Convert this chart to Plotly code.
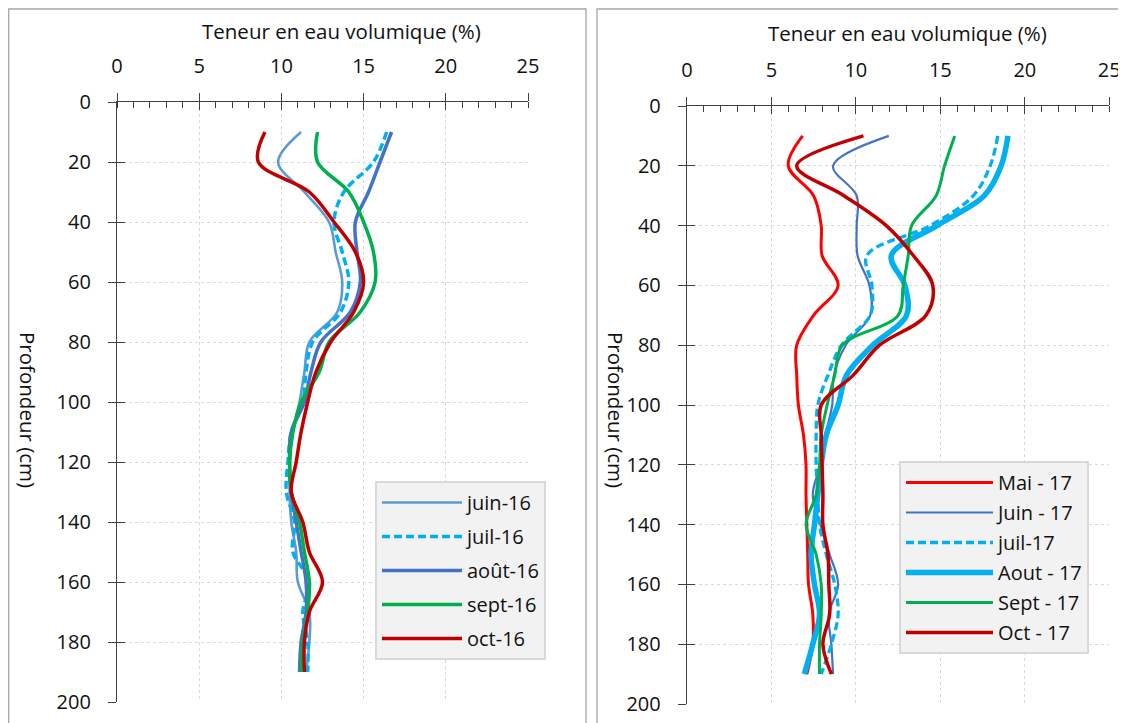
import plotly.graph_objects as go

# page is rendered with an 8px body margin; figure sized so it ends at the window edge
OFF = 8
W, H = 1126 - OFF, 723 - OFF

def px(x):
    return (x - OFF) / W

def py(y):
    return 1 - (y - OFF) / H

depth = [10, 20, 30, 40, 50, 60, 70, 80, 90, 100, 110, 120, 130, 140, 150, 160, 170, 180, 190]

# 2016 (left panel)
juin16 = [11.2, 9.8, 11.4, 12.9, 13.3, 13.7, 13.4, 11.7, 11.4, 11.1, 10.7, 10.5, 10.5, 10.6, 10.9, 11.0, 11.7, 11.7, 11.5]
juil16 = [16.4, 15.6, 13.8, 13.2, 13.7, 14.1, 13.6, 11.9, 11.5, 11.3, 10.6, 10.4, 10.3, 10.8, 10.7, 11.7, 11.3, 11.6, 11.6]
aout16 = [16.7, 16.0, 15.3, 14.5, 14.6, 14.8, 14.2, 12.4, 11.8, 11.4, 10.6, 10.5, 10.6, 10.9, 11.2, 11.5, 11.5, 11.2, 11.1]
sept16 = [12.2, 12.2, 14.1, 15.0, 15.6, 15.7, 14.8, 12.9, 12.3, 11.2, 10.7, 10.5, 10.6, 11.1, 11.4, 11.7, 11.6, 11.3, 11.2]
oct16 = [9.0, 8.6, 11.7, 13.2, 14.5, 15.0, 14.4, 13.0, 12.1, 11.6, 11.2, 10.9, 10.6, 11.3, 11.7, 12.5, 11.7, 11.4, 11.4]

# 2017 (right panel)
mai17 = [6.85, 6.0, 7.5, 7.95, 8.0, 8.95, 7.5, 6.5, 6.5, 6.6, 6.9, 7.05, 7.05, 7.1, 7.15, 7.2, 7.45, 7.45, 7.1]
juin17 = [11.95, 8.65, 10.05, 10.05, 10.1, 10.8, 10.85, 9.4, 8.7, 8.6, 8.2, 7.9, 7.45, 7.9, 8.45, 8.95, 8.4, 8.55, 8.65]
juil17 = [18.4, 17.95, 16.95, 14.4, 10.65, 10.95, 10.85, 9.15, 8.35, 7.75, 7.65, 7.65, 7.75, 7.85, 8.25, 8.75, 8.95, 8.55, 7.95]
aout17 = [19.0, 18.6, 17.6, 14.8, 12.1, 12.9, 13.0, 11.0, 9.45, 8.95, 8.25, 7.95, 7.75, 7.55, 7.35, 7.55, 7.85, 7.45, 6.95]
sept17 = [15.85, 15.25, 14.75, 13.3, 13.1, 12.8, 12.5, 9.2, 8.75, 8.3, 7.95, 7.85, 7.65, 7.05, 7.65, 7.95, 7.95, 7.85, 7.85]
oct17 = [10.45, 6.5, 9.3, 11.8, 13.4, 14.55, 14.15, 11.4, 9.85, 7.95, 7.95, 8.0, 8.05, 8.05, 8.35, 8.4, 8.45, 8.05, 8.55]

x_title = "Teneur en eau volumique (%)"
y_title = "Profondeur (cm)"
x_ticks = [0, 5, 10, 15, 20, 25]
y_ticks = [0, 20, 40, 60, 80, 100, 120, 140, 160, 180, 200]

FONT = "Open Sans"
TXT = "#111111"

left_series = [
    ("juin-16", juin16, "#5B9BD5", 2.6, "solid"),
    ("juil-16", juil16, "#00B0F0", 3.5, "8px,4px"),
    ("août-16", aout16, "#4472C4", 3.5, "solid"),
    ("sept-16", sept16, "#00B050", 3.5, "solid"),
    ("oct-16", oct16, "#C00000", 3.5, "solid"),
]
right_series = [
    ("Mai - 17", mai17, "#FF0000", 3.0, "solid"),
    ("Juin - 17", juin17, "#4472C4", 2.2, "solid"),
    ("juil-17", juil17, "#00B0F0", 3.3, "8px,4px"),
    ("Aout - 17", aout17, "#00B0F0", 5.5, "solid"),
    ("Sept - 17", sept17, "#00B050", 3.0, "solid"),
    ("Oct - 17", oct17, "#C00000", 3.5, "solid"),
]

fig = go.Figure()
for i, (name, vals, col, w, dash) in enumerate(left_series):
    fig.add_trace(go.Scatter(x=vals, y=depth, name=name, mode="lines",
                             line=dict(color=col, width=w, dash=dash, shape="spline", smoothing=1),
                             xaxis="x", yaxis="y", legend="legend", legendgroup="L%d" % i))
for i, (name, vals, col, w, dash) in enumerate(right_series):
    fig.add_trace(go.Scatter(x=vals, y=depth, name=name, mode="lines",
                             line=dict(color=col, width=w, dash=dash, shape="spline", smoothing=1),
                             xaxis="x2", yaxis="y2", legend="legend2", legendgroup="R%d" % i))
# carriers for the overlay axes (inner half of crossing ticks)
fig.add_trace(go.Scatter(x=[None], y=[None], xaxis="x3", yaxis="y3", showlegend=False, hoverinfo="skip"))
fig.add_trace(go.Scatter(x=[None], y=[None], xaxis="x4", yaxis="y4", showlegend=False, hoverinfo="skip"))

def xax(domain, anchor):
    return dict(domain=domain, anchor=anchor, side="top", range=[0, 25], tickvals=x_ticks,
                automargin=False,
                showline=True, linecolor="#404040", linewidth=1.3, ticks="outside", ticklen=8,
                tickwidth=1.3, tickcolor="#404040", ticklabelstandoff=12,
                minor=dict(dtick=1, ticks="inside", ticklen=6, tickwidth=1, tickcolor="#404040", showgrid=False),
                showgrid=True, gridcolor="#D9D9D9", griddash="3px,3px", gridwidth=1,
                zeroline=False, tickfont=dict(family=FONT, size=20, color=TXT))

def yax(domain, anchor):
    return dict(domain=domain, anchor=anchor, range=[200, 0], tickvals=y_ticks,
                automargin=False,
                showline=True, linecolor="#404040", linewidth=1.3, ticks="outside", ticklen=8,
                tickwidth=1.3, tickcolor="#404040", ticklabelstandoff=13,
                showgrid=True, gridcolor="#D9D9D9", griddash="3px,3px", gridwidth=1,
                zeroline=False, tickfont=dict(family=FONT, size=20, color=TXT))

def xov(over, anchor):
    return dict(overlaying=over, anchor=anchor, side="top", range=[0, 25], tickvals=x_ticks,
                automargin=False,
                showticklabels=False, ticks="inside", ticklen=8, tickwidth=1.3, tickcolor="#404040",
                showline=False, showgrid=False, zeroline=False)

def yov(over, anchor):
    return dict(overlaying=over, anchor=anchor, side="left", range=[200, 0], tickvals=y_ticks,
                automargin=False,
                showticklabels=False, ticks="inside", ticklen=8, tickwidth=1.3, tickcolor="#404040",
                showline=False, showgrid=False, zeroline=False)

xL = [px(117), px(528)]
yL = [py(702), py(102)]
xR = [px(686.9), px(1109.3)]
yR = [py(704), py(106)]

legend_common = dict(bgcolor="#F2F2F2", bordercolor="#D9D9D9", borderwidth=2,
                     font=dict(family=FONT, size=20, color=TXT), xanchor="left", yanchor="top",
                     traceorder="grouped", entrywidthmode="pixels")

fig.update_layout(
    width=W, height=H, margin=dict(l=0, r=0, t=0, b=0, autoexpand=False),
    paper_bgcolor="white", plot_bgcolor="white",
    xaxis=xax(xL, "y"), yaxis=yax(yL, "x"),
    xaxis2=xax(xR, "y2"), yaxis2=yax(yR, "x2"),
    xaxis3=xov("x", "y3"), yaxis3=yov("y", "x3"),
    xaxis4=xov("x2", "y4"), yaxis4=yov("y2", "x4"),
    legend=dict(x=px(375), y=py(481), tracegroupgap=5, itemwidth=80, entrywidth=170, **legend_common),
    legend2=dict(x=px(899), y=py(461), tracegroupgap=1, itemwidth=87, entrywidth=197, **legend_common),
    showlegend=True,
    shapes=[
        dict(type="rect", xref="paper", yref="paper", x0=px(8.7), x1=px(586), y0=-0.05, y1=py(9),
             line=dict(color="#A6A6A6", width=1.3), layer="below"),
        dict(type="rect", xref="paper", yref="paper", x0=px(597), x1=1.05, y0=-0.05, y1=py(9),
             line=dict(color="#A6A6A6", width=1.3), layer="below"),
    ],
    annotations=[
        dict(text=x_title, xref="paper", yref="paper", x=px(341), y=py(31), showarrow=False,
             xanchor="center", yanchor="middle", font=dict(family=FONT, size=20.5, color=TXT)),
        dict(text=x_title, xref="paper", yref="paper", x=px(907), y=py(33), showarrow=False,
             xanchor="center", yanchor="middle", font=dict(family=FONT, size=20.5, color=TXT)),
        dict(text=y_title, xref="paper", yref="paper", x=px(28), y=py(410), showarrow=False,
             textangle=90, xanchor="center", yanchor="middle", font=dict(family=FONT, size=20.5, color=TXT)),
        dict(text=y_title, xref="paper", yref="paper", x=px(616), y=py(410), showarrow=False,
             textangle=90, xanchor="center", yanchor="middle", font=dict(family=FONT, size=20.5, color=TXT)),
    ],
)

fig.write_html("out.html")
